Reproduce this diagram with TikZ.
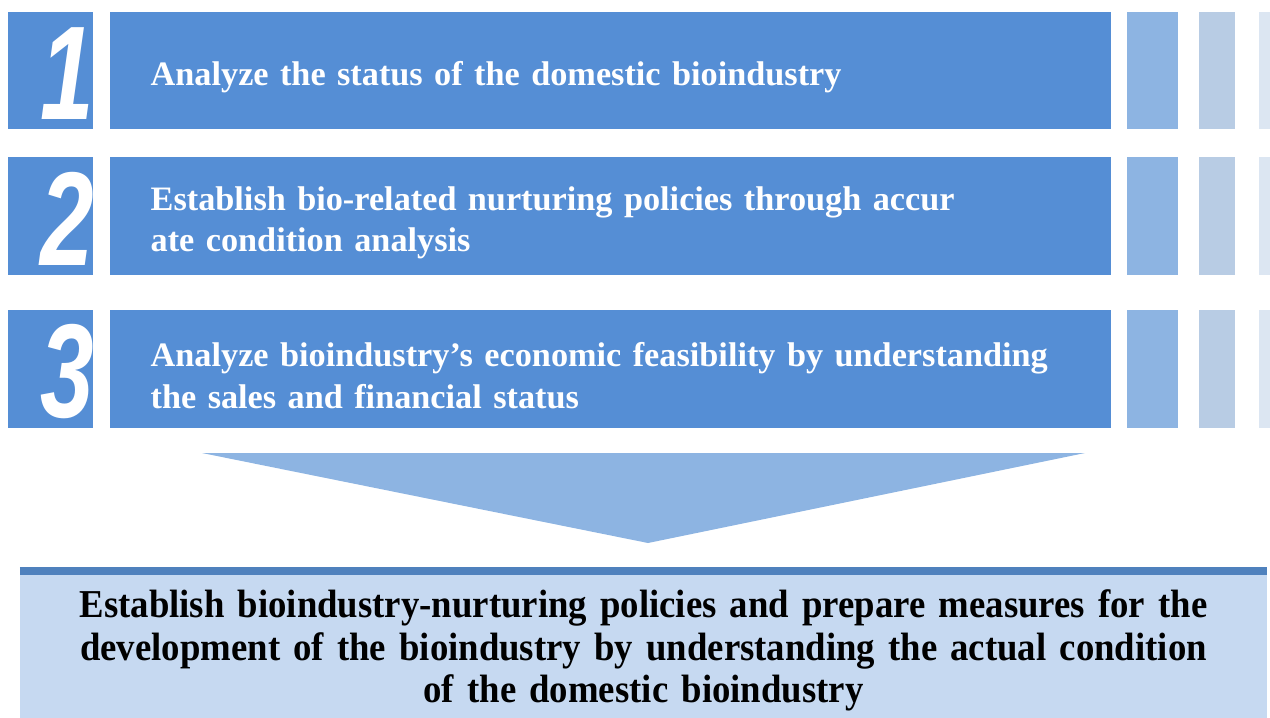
\documentclass[tikz,border=0pt]{standalone}
\usepackage{fontspec}
\setmainfont{Liberation Serif}
\newfontfamily\digitfont[FakeStretch=0.72]{Liberation Sans}
\newfontfamily\goalfont[FakeStretch=0.93]{Liberation Serif}
\usetikzlibrary{positioning, calc}
\definecolor{stepblue}{RGB}{85,142,213}
\definecolor{barone}{RGB}{141,180,226}
\definecolor{bartwo}{RGB}{184,204,228}
\definecolor{barthree}{RGB}{220,230,242}
\definecolor{chevronblue}{RGB}{141,180,226}
\definecolor{goalfill}{RGB}{198,217,241}
\definecolor{goalline}{RGB}{79,129,189}

\begin{document}
\begin{tikzpicture}[
    x=0.02cm, y=-0.02cm,
    node distance=0.32cm,
    numbox/.style={rectangle, fill=stepblue, minimum width=1.7cm,
                minimum height=2.36cm, inner sep=0pt},
    digit/.style={text=white, inner sep=0pt,
                font=\digitfont\fontsize{76}{76}\selectfont\bfseries\itshape},
    stepbox/.style={rectangle, fill=stepblue, text width=18.38cm,
                minimum height=2.36cm, inner xsep=0.82cm, align=left,
                text=white, font=\fontsize{19.5}{23.5}\selectfont\bfseries,
                execute at begin node={\rule{0pt}{0.75cm}}},
    bar/.style={rectangle, minimum height=2.36cm, inner sep=0pt},
    goalbox/.style={rectangle, fill=goalfill, minimum width=24.94cm,
                minimum height=2.98cm, text width=24cm, align=center,
                font=\goalfont\fontsize{22.5}{24.3}\selectfont\bfseries,
                execute at begin node={\rule{0pt}{0.74cm}}},
    chevron/.style={fill=chevronblue}
]
    \useasboundingbox (0,0) rectangle (1270,717);

    % step 1
    \node[numbox] (num1) at (50.5,70.5) {};
    \node[digit] (dig1) at ($(num1.center)+(17,3)$) {1};
    \node[stepbox, right=of num1] (step1) {Analyze the status of the domestic bioindustry};
    \node[bar, fill=barone, minimum width=1.02cm, right=of step1] (bar1a) {};
    \node[bar, fill=bartwo, minimum width=0.72cm, right=0.4cm of bar1a] (bar1b) {};
    \node[bar, fill=barthree, minimum width=0.4cm, right=0.46cm of bar1b] (bar1c) {};

    % step 2
    \node[numbox] (num2) at (50.5,216) {};
    \node[digit] (dig2) at ($(num2.center)+(17,3)$) {2};
    \node[stepbox, right=of num2] (step2) {Establish bio-related nurturing policies through accur\\ate condition analysis};
    \node[bar, fill=barone, minimum width=1.02cm, right=of step2] (bar2a) {};
    \node[bar, fill=bartwo, minimum width=0.72cm, right=0.4cm of bar2a] (bar2b) {};
    \node[bar, fill=barthree, minimum width=0.4cm, right=0.46cm of bar2b] (bar2c) {};

    % step 3
    \node[numbox] (num3) at (50.5,369) {};
    \node[digit] (dig3) at ($(num3.center)+(17,3)$) {3};
    \node[stepbox, right=of num3] (step3) {\hyphenpenalty=10000 Analyze bioindustry's economic feasibility by understanding\\the sales and financial status};
    \node[bar, fill=barone, minimum width=1.02cm, right=of step3] (bar3a) {};
    \node[bar, fill=bartwo, minimum width=0.72cm, right=0.4cm of bar3a] (bar3b) {};
    \node[bar, fill=barthree, minimum width=0.4cm, right=0.46cm of bar3b] (bar3c) {};

    % big arrow down
    \fill[chevron] (202,453) -- (1085,453) -- (648,543) -- cycle;

    % result
    \node[goalbox] (goal) at (643.5,646) {Establish bioindustry-nurturing policies and prepare measures for the\\development of the bioindustry by understanding the actual condition\\of the domestic bioindustry};
    \draw[goalline, line width=0.16cm] (goal.north west) -- (goal.north east);
\end{tikzpicture}
\end{document}
